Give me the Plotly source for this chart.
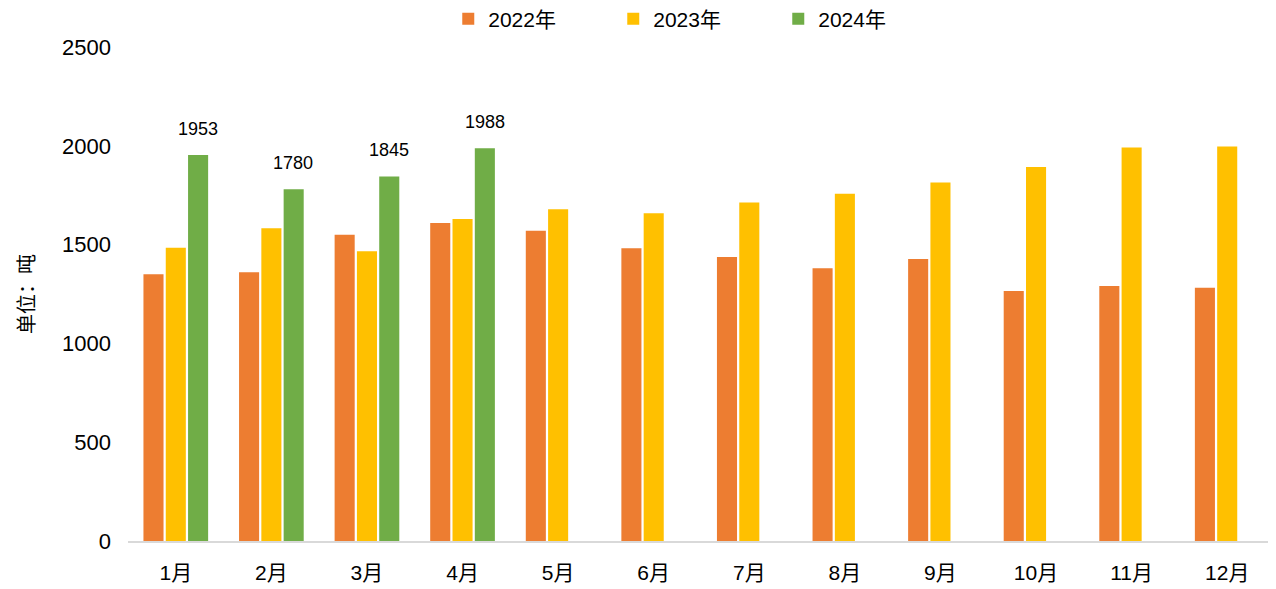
import plotly.graph_objects as go

months = ["1月", "2月", "3月", "4月", "5月", "6月", "7月", "8月", "9月", "10月", "11月", "12月"]
v2022 = [1350, 1360, 1550, 1609, 1570, 1482, 1437, 1380, 1427, 1265, 1290, 1282]
v2023 = [1484, 1583, 1466, 1630, 1679, 1659, 1713, 1757, 1814, 1893, 1992, 1997]
v2024 = [1953, 1780, 1845, 1988, None, None, None, None, None, None, None, None]
series_names = ["2022年", "2023年", "2024年"]
colors = ["#ED7D31", "#FFC000", "#70AD47"]
yticks = [0, 500, 1000, 1500, 2000, 2500]

FONT = "Liberation Sans, Arial, Noto Sans CJK SC, sans-serif"

fig = go.Figure()
for name, vals, col in zip(series_names, [v2022, v2023, v2024], colors):
    fig.add_trace(go.Bar(x=months, y=vals, name=name, marker=dict(color=col, line=dict(width=0))))

for m, v in zip(months, v2024):
    if v is not None:
        fig.add_annotation(x=m, y=v, text=str(v), showarrow=False, xref="x", yref="y",
                           yanchor="bottom", yshift=14, xshift=22,
                           font=dict(size=18, color="#000000", family=FONT))

fig.update_layout(
    width=1268, height=581,
    margin=dict(l=120, r=1, t=39, b=48, autoexpand=False),
    paper_bgcolor="white", plot_bgcolor="white",
    barmode="group", bargap=0.3, bargroupgap=0.1,
    font=dict(family=FONT, color="#000000"),
    showlegend=True,
    legend=dict(orientation="h", x=0.495, xanchor="center", y=0.981, yanchor="middle",
                yref="container",
                font=dict(size=21, color="#000000", family=FONT),
                entrywidth=120, itemwidth=30, traceorder="normal"),
    xaxis=dict(showgrid=False, showline=True, linecolor="#D9D9D9", linewidth=2,
               ticks="", tickfont=dict(size=21, color="#000000", family=FONT),
               ticklabelstandoff=12, automargin=False),
    yaxis=dict(range=[0, 2500], tickvals=yticks, showgrid=False, zeroline=False,
               showline=False, ticks="", tickfont=dict(size=22, color="#000000", family=FONT),
               ticklabelstandoff=16, automargin=False,
               title=dict(text="单位：吨", font=dict(size=20, color="#000000", family=FONT), standoff=22)),
)

fig.write_html("out.html")
